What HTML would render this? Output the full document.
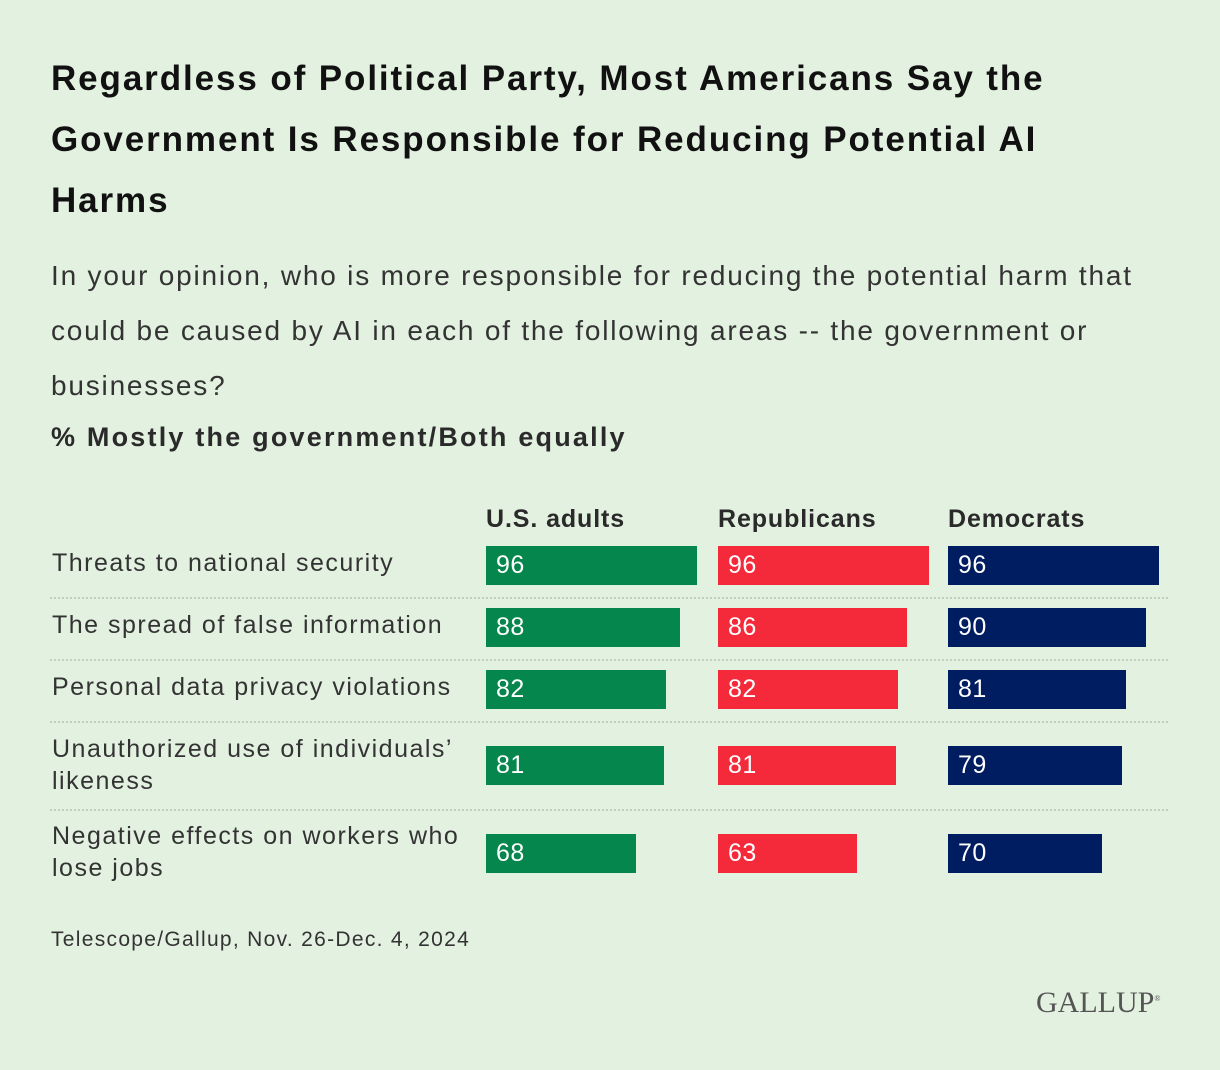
<!DOCTYPE html>
<html><head><meta charset="utf-8"><style>
body{margin:0;width:1220px;height:1070px;background:#e3f1e0;font-family:"Liberation Sans",sans-serif;color:#222;position:relative;overflow:hidden}
.abs{position:absolute}
h1{position:absolute;left:51px;top:48px;margin:0;font-size:35px;line-height:61px;font-weight:bold;width:1030px;color:#111;letter-spacing:1.9px}
.sub{left:51px;top:248px;font-size:28px;line-height:55px;width:1125px;color:#333;letter-spacing:1.8px}
.lbl{font-size:25px;line-height:32px;color:#333;left:52px;letter-spacing:1.5px}
.hdr{font-size:25px;font-weight:bold;top:505px;color:#2a2a2a;letter-spacing:0.9px}
.bar{position:absolute;height:39px}
.val{position:absolute;color:#fff;font-size:25px;line-height:39px;letter-spacing:0.5px}
.sep{position:absolute;left:50px;width:1118px;border-top:2px dotted #c3cdc0;height:0}
</style></head><body>
<h1>Regardless of Political Party, Most Americans Say the Government Is Responsible for Reducing Potential AI Harms</h1>
<div class="abs sub">In your opinion, who is more responsible for reducing the potential harm that could be caused by AI in each of the following areas -- the government or businesses?</div>
<div class="abs" style="left:51px;top:422px;font-size:27px;font-weight:bold;color:#2a2a2a;letter-spacing:2.2px">% Mostly the government/Both equally</div>
<div class="abs hdr" style="left:486px">U.S. adults</div>
<div class="abs hdr" style="left:718px">Republicans</div>
<div class="abs hdr" style="left:948px">Democrats</div>
<div id="chart"></div>
<div class="abs" style="left:51px;top:928px;font-size:21px;color:#333;letter-spacing:1.3px">Telescope/Gallup, Nov. 26-Dec. 4, 2024</div>
<div class="abs" style="left:1036px;top:986px;font-family:'Liberation Serif',serif;font-size:30px;color:#555">GALLUP<sup style="font-size:8px">®</sup></div>
<script>
const categories=["Threats to national security","The spread of false information","Personal data privacy violations","Unauthorized use of individuals’ likeness","Negative effects on workers who lose jobs"];
const usAdults=[96,88,82,81,68];
const republicans=[96,86,82,81,63];
const democrats=[96,90,81,79,70];
const rowTops=[546,608,670,746,834];
const labelTops=[546,608,670,733,820];
const seps=[597,659,721,809];
const colStarts=[486,718,948];
const colors=["#05864c","#f42a3a","#001d62"];
const series=[usAdults,republicans,democrats];
const names=["us-adults","republicans","democrats"];
const x=v=>v*2.2;
const c=document.getElementById('chart');
categories.forEach((cat,i)=>{
  const l=document.createElement('div');
  l.className='abs lbl';l.style.top=(labelTops[i]+(i<3?1:0))+'px';l.style.width='425px';
  l.textContent=cat;
  
  
  c.appendChild(l);
  series.forEach((s,j)=>{
    const b=document.createElement('div');
    b.className='bar';b.style.left=colStarts[j]+'px';b.style.top=rowTops[i]+'px';
    b.style.width=x(s[i])+'px';b.style.background=colors[j];
    
    
    c.appendChild(b);
    const t=document.createElement('div');
    t.className='val';t.style.left=(colStarts[j]+10)+'px';t.style.top=rowTops[i]+'px';
    t.textContent=s[i];
    
    
    c.appendChild(t);
  });
});
seps.forEach(y=>{
  const d=document.createElement('div');d.className='sep';d.style.top=y+'px';
  
  
  c.appendChild(d);
});
</script>
</body></html>
